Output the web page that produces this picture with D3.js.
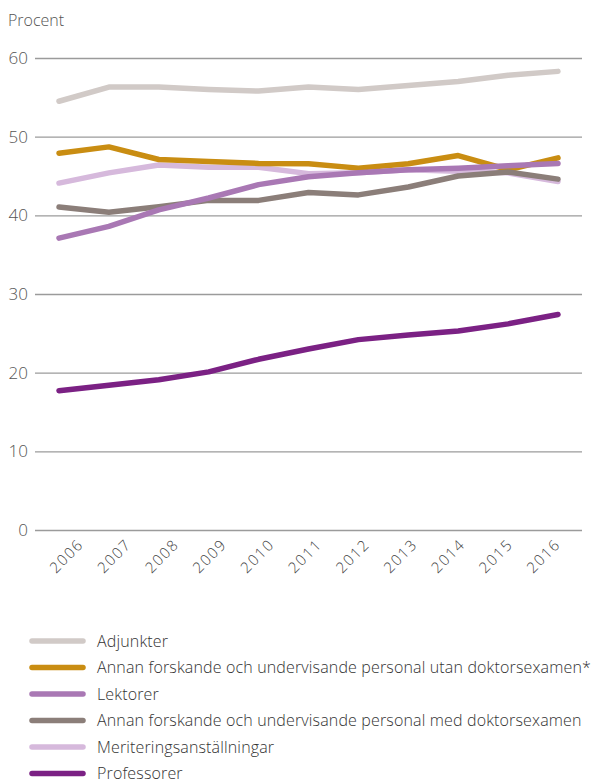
<!DOCTYPE html>
<html>
<head>
<meta charset="utf-8">
<script src="https://cdn.jsdelivr.net/npm/d3@7"></script>
<style>
  body { margin: 0; background: #fff; }
  svg { display: block; font-family: "Open Sans", sans-serif; }
</style>
</head>
<body>
<svg id="chart" width="596" height="784"></svg>
<script>
const years = [2006, 2007, 2008, 2009, 2010, 2011, 2012, 2013, 2014, 2015, 2016];
const yTicks = [0, 10, 20, 30, 40, 50, 60];
const seriesNames = [
  "Adjunkter",
  "Annan forskande och undervisande personal utan doktorsexamen*",
  "Lektorer",
  "Annan forskande och undervisande personal med doktorsexamen",
  "Meriteringsanställningar",
  "Professorer"
];
const seriesColors = ["#d1cac7", "#c98d12", "#a978b4", "#8b7e79", "#d6b9dc", "#7b2184"];
const adjunkter   = [54.5, 56.3, 56.3, 56.0, 55.8, 56.3, 56.0, 56.5, 57.0, 57.8, 58.3];
const annanUtan   = [47.9, 48.7, 47.1, 46.85, 46.6, 46.55, 46.0, 46.55, 47.6, 45.8, 47.3];
const lektorer    = [37.1, 38.6, 40.7, 42.2, 43.9, 44.9, 45.4, 45.8, 46.0, 46.3, 46.6];
const annanMed    = [41.05, 40.4, 41.1, 41.9, 41.9, 42.9, 42.6, 43.6, 45.0, 45.5, 44.6];
const meritering  = [44.1, 45.4, 46.4, 46.1, 46.1, 45.3, 45.4, 45.8, 45.6, 45.4, 44.3];
const professorer = [17.7, 18.4, 19.1, 20.1, 21.7, 23.0, 24.2, 24.8, 25.3, 26.2, 27.4];
const seriesValues = [adjunkter, annanUtan, lektorer, annanMed, meritering, professorer];
// draw order (bottom to top)
const drawOrder = [0, 4, 1, 3, 2, 5];

const svg = d3.select("#chart");
const plotLeft = 35, plotRight = 582;
const x = d3.scalePoint().domain(years).range([59, 558]);
const xLabel = d3.scalePoint().domain(years).range([66, 543]);
const y = d3.scaleLinear().domain([0, 60]).range([530, 58]);

svg.append("text").attr("x", 8).attr("y", 26)
  .attr("font-size", 16).attr("font-weight", 300).attr("fill", "#555")
  .text("Procent");

// grid + y labels
const yAxis = d3.axisLeft(y).tickValues(yTicks).tickSize(-(plotRight - plotLeft)).tickPadding(7);
const gy = svg.append("g").attr("transform", `translate(${plotLeft},0)`).call(yAxis);
gy.select(".domain").remove();
gy.selectAll(".tick line").attr("stroke", "#9b9b9b").attr("stroke-width", 1.3);
gy.selectAll(".tick text").attr("font-size", 17).attr("font-weight", 300).attr("fill", "#555")
  .attr("font-family", "Open Sans, sans-serif");

// x labels
const xAxis = d3.axisBottom(xLabel).tickSize(0).tickPadding(0);
const gx = svg.append("g").attr("transform", "translate(0,556)").call(xAxis);
gx.select(".domain").remove();
gx.selectAll(".tick text")
  .attr("font-size", 15).attr("font-weight", 300).attr("fill", "#444")
  .attr("font-family", "Open Sans, sans-serif")
  .attr("letter-spacing", 1.5)
  .attr("text-anchor", "middle")
  .attr("y", 0).attr("dy", "0.35em")
  .attr("transform", "rotate(-45)");

const line = d3.line().x((d, i) => x(years[i])).y(d => y(d));
drawOrder.forEach(k => {
  svg.append("path").datum(seriesValues[k])
    .attr("d", line).attr("fill", "none")
    .attr("stroke", seriesColors[k]).attr("stroke-width", 5.5)
    .attr("stroke-linecap", "round").attr("stroke-linejoin", "round");
});

// legend
const lg = svg.append("g");
seriesNames.forEach((name, i) => {
  const yy = 641 + i * 26.5;
  lg.append("line").attr("x1", 32).attr("x2", 83).attr("y1", yy).attr("y2", yy)
    .attr("stroke", seriesColors[i]).attr("stroke-width", 5.5).attr("stroke-linecap", "round");
  lg.append("text").attr("x", 97).attr("y", yy + 5.5)
    .attr("font-size", 16).attr("font-weight", 300).attr("fill", "#333")
    .attr("letter-spacing", 0.15)
    .text(name);
});
</script>
</body>
</html>
